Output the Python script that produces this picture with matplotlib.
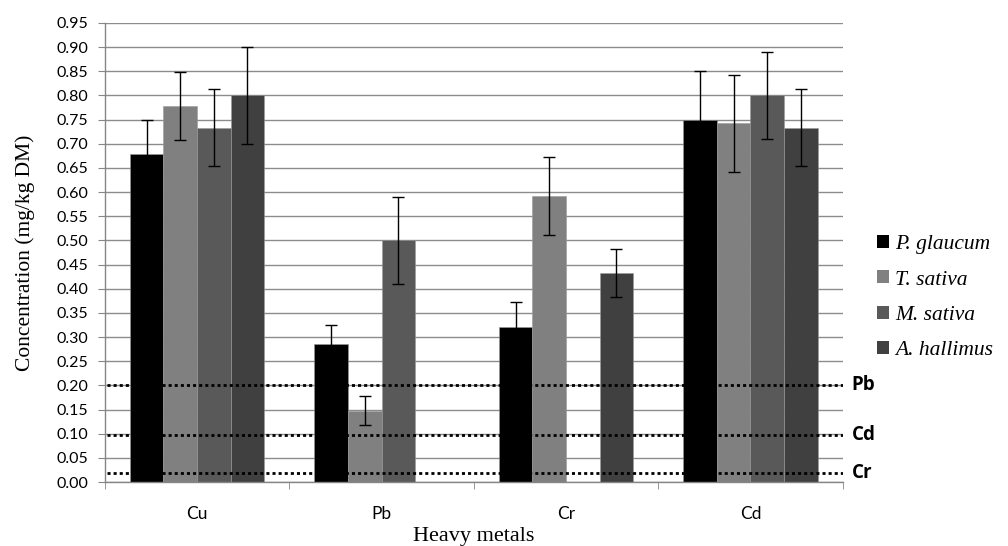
import numpy as np
import matplotlib
matplotlib.use("Agg")
import matplotlib.pyplot as plt
from matplotlib.patches import Patch

# --- data ---
metals = ["Cu", "Pb", "Cr", "Cd"]
species = ["P. glaucum", "T. sativa", "M. sativa", "A. hallimus"]
p_glaucum = [0.678, 0.285, 0.320, 0.750]
t_sativa = [0.778, 0.148, 0.592, 0.742]
m_sativa = [0.733, 0.500, np.nan, 0.800]
a_hallimus = [0.800, np.nan, 0.432, 0.733]
p_glaucum_err = [0.072, 0.040, 0.052, 0.100]
t_sativa_err = [0.070, 0.030, 0.080, 0.100]
m_sativa_err = [0.080, 0.090, np.nan, 0.090]
a_hallimus_err = [0.100, np.nan, 0.050, 0.080]
# permissible limits (dotted lines)
limit_names = ["Pb", "Cd", "Cr"]
limit_values = [0.200, 0.097, 0.018]

values = [p_glaucum, t_sativa, m_sativa, a_hallimus]
errors = [p_glaucum_err, t_sativa_err, m_sativa_err, a_hallimus_err]
colors = ["#000000", "#808080", "#595959", "#404040"]

serif = "Liberation Serif"
sans = "Lato"

fig = plt.figure(figsize=(10.08, 5.46), dpi=100)
ax = fig.add_axes([0.104, 0.117, 0.732, 0.841])

x = np.arange(len(metals))
w = 0.182
for i, (vals, errs, c) in enumerate(zip(values, errors, colors)):
    pos = x + (i - 1.5) * w
    ax.bar(pos, vals, width=w, color=c, edgecolor="#9a9a9a", linewidth=0.4, zorder=2)
    ax.errorbar(pos, vals, yerr=errs, fmt="none", ecolor="black", elinewidth=1.0,
                capsize=4.5, capthick=1.0, zorder=3)

for name, v in zip(limit_names, limit_values):
    ax.axhline(v, xmin=0.003, xmax=1.0, color="black", linestyle=(0, (1.1, 1.1)),
               linewidth=2.0, zorder=4)
    ax.text(1.012, v, name, transform=ax.get_yaxis_transform(), ha="left", va="center",
            fontsize=13.5, fontweight="bold", family="Open Sans")

ax.set_xlim(-0.5, len(metals) - 0.5)
ax.set_ylim(0, 0.95)
ax.set_yticks(np.arange(0, 0.951, 0.05))
ax.set_yticklabels([f"{t:.2f}" for t in np.arange(0, 0.951, 0.05)], family=sans, fontsize=11.5)
ax.set_xticks(x)
ax.set_xticklabels(metals, family=sans, fontsize=12.5)
ax.set_xticks(np.arange(len(metals) + 1) - 0.5, minor=True)
ax.tick_params(axis="x", which="major", length=0, pad=17)
ax.tick_params(axis="x", which="minor", length=5, color="#868686", direction="out")
ax.tick_params(axis="y", length=5, color="#868686", direction="out", pad=7)

ax.yaxis.grid(True, color="#8c8c8c", linewidth=1.0, zorder=0)
ax.set_axisbelow(True)
for s in ["top", "right"]:
    ax.spines[s].set_visible(False)
for s in ["left", "bottom"]:
    ax.spines[s].set_color("#868686")
    ax.spines[s].set_linewidth(1.0)

ax.set_ylabel("Concentration (mg/kg DM)", family=serif, fontsize=15.5, labelpad=15)
ax.set_xlabel("Heavy metals", family=serif, fontsize=16, labelpad=4)

handles = [Patch(facecolor=c, edgecolor="none") for c in colors]
leg = ax.legend(handles, species, loc="upper left", bbox_to_anchor=(1.020, 0.58),
                frameon=False, handlelength=0.55, handleheight=0.55, handletextpad=0.3,
                labelspacing=0.75, prop={"family": serif, "style": "italic", "size": 15.5})

fig.savefig("out.png", dpi=100)
